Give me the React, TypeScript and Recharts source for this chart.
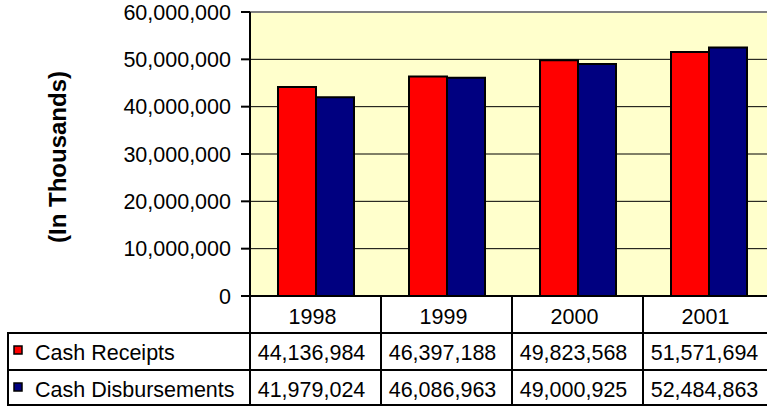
import React from "react";
import {
  BarChart,
  Bar,
  XAxis,
  YAxis,
  CartesianGrid,
  ReferenceLine,
} from "recharts";

const years = ["1998", "1999", "2000", "2001"];
const cashReceipts = [44136984, 46397188, 49823568, 51571694];
const cashDisbursements = [41979024, 46086963, 49000925, 52484863];
const yTicks = [0, 10000000, 20000000, 30000000, 40000000, 50000000, 60000000];

const seriesNames = ["Cash Receipts", "Cash Disbursements"];
const seriesColors = ["#FF0000", "#000080"];
const seriesValues = [cashReceipts, cashDisbursements];

const data = years.map((year, i) => ({
  year,
  receipts: cashReceipts[i],
  disbursements: cashDisbursements[i],
}));

const FONT = "'Liberation Sans', Arial, sans-serif";
const FS = 21.5;
const CHART_W = 780;
const CHART_H = 407;
const Y_AXIS_W = 250;
const MARGIN = { top: 12, right: 6, left: 0, bottom: 0 };
const X_AXIS_H = 111;
const BAND = (CHART_W - MARGIN.left - MARGIN.right - Y_AXIS_W) / years.length;

const fmt = (v: number) => String(v).replace(/\B(?=(\d{3})+(?!\d))/g, ",");

// rows of the data table, relative to the x axis line
const ROW_LINES = [37, 74, 109];
const HEADER_BASE = 28;
const ROW_BASES = [64, 101];

const TableTick = (props: any) => {
  const { x, y, payload, index } = props;
  const left = x - BAND / 2;
  const right = x + BAND / 2;
  return (
    <g>
      <line x1={left} x2={left} y1={y} y2={y + ROW_LINES[2]} stroke="#000" strokeWidth={2} />
      {ROW_LINES.map((dy) => (
        <line key={dy} x1={left} x2={right} y1={y + dy} y2={y + dy} stroke="#000" strokeWidth={2} />
      ))}
      <text x={x - 3} y={y + HEADER_BASE} textAnchor="middle" fontSize={FS} fontFamily={FONT} fill="#000">
        {payload.value}
      </text>
      {seriesValues.map((vals, r) => (
        <text key={r} x={x - 4} y={y + ROW_BASES[r]} textAnchor="middle" fontSize={FS} fontFamily={FONT} fill="#000">
          {fmt(vals[index])}
        </text>
      ))}
      {index === 0 && (
        <g>
          <line x1={8} x2={8} y1={y + ROW_LINES[0]} y2={y + ROW_LINES[2]} stroke="#000" strokeWidth={2} />
          {ROW_LINES.map((dy) => (
            <line key={dy} x1={7} x2={left} y1={y + dy} y2={y + dy} stroke="#000" strokeWidth={2} />
          ))}
          {seriesNames.map((name, r) => (
            <g key={name}>
              <rect x={14} y={y + ROW_BASES[r] - 14} width={8} height={8} fill={seriesColors[r]} stroke="#000" strokeWidth={1.5} />
              <text x={35} y={y + ROW_BASES[r]} fontSize={FS} fontFamily={FONT} fill="#000">
                {name}
              </text>
            </g>
          ))}
        </g>
      )}
    </g>
  );
};

const YTitle = (props: any) => {
  const { viewBox } = props;
  const cx = viewBox.x + 57;
  const cy = viewBox.y + viewBox.height / 2 + 3;
  return (
    <text
      x={cx}
      y={cy}
      transform={`rotate(-90 ${cx} ${cy})`}
      textAnchor="middle"
      dominantBaseline="central"
      fontSize={24}
      fontWeight="bold"
      fontFamily={FONT}
      fill="#000"
    >
      (In Thousands)
    </text>
  );
};

export default function App() {
  return (
    <div
      style={{
        position: "absolute",
        left: 0,
        top: 0,
        width: 767,
        height: 407,
        overflow: "hidden",
        background: "#fff",
      }}
    >
      <BarChart
        width={CHART_W}
        height={CHART_H}
        data={data}
        margin={MARGIN}
        barGap={0}
        barCategoryGap={28}
      >
        <CartesianGrid vertical={false} stroke="#000" strokeWidth={1} fill="#FFFFCC" />
        <XAxis
          dataKey="year"
          height={X_AXIS_H}
          tickLine={false}
          tickSize={0}
          tickMargin={0}
          axisLine={{ stroke: "#000", strokeWidth: 2 }}
          tick={<TableTick />}
          interval={0}
        />
        <YAxis
          width={Y_AXIS_W}
          domain={[0, 60000000]}
          ticks={yTicks}
          tickFormatter={fmt}
          tickSize={9}
          tickMargin={10}
          tickLine={{ stroke: "#000", strokeWidth: 2 }}
          axisLine={{ stroke: "#000", strokeWidth: 2 }}
          tick={{ fontSize: FS, fontFamily: FONT, fill: "#000" }}
          label={<YTitle />}
        />
        <Bar dataKey="receipts" fill={seriesColors[0]} stroke="#000" strokeWidth={2} isAnimationActive={false} />
        <Bar dataKey="disbursements" fill={seriesColors[1]} stroke="#000" strokeWidth={2} isAnimationActive={false} />
        <ReferenceLine y={60000000} stroke="#808080" strokeWidth={2} />
      </BarChart>
    </div>
  );
}
